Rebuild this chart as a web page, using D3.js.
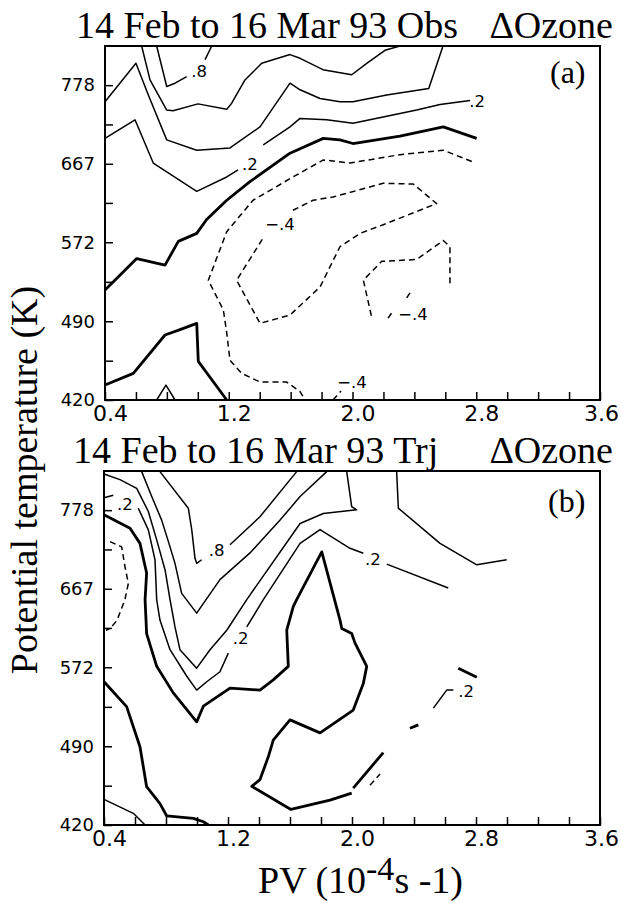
<!DOCTYPE html>
<html>
<head>
<meta charset="utf-8">
<script src="https://cdn.jsdelivr.net/npm/d3@7"></script>
<style>
  body { margin: 0; background: #fff; }
  svg { display: block; }
  .title { font-family: "Liberation Serif", "Times New Roman", serif; font-size: 38px; fill: #000; }
  .tag { font-family: "Liberation Serif", "Times New Roman", serif; font-size: 32px; fill: #000; }
  .clabel { font-family: "DejaVu Sans", sans-serif; font-size: 16.5px; fill: #000; }
</style>
</head>
<body>
<svg id="chart"></svg>
<script>
// axis ticks
const pvTicks = [0.4, 0.6, 0.8, 1.0, 1.2, 1.4, 1.6, 1.8, 2.0, 2.2, 2.4, 2.6, 2.8, 3.0, 3.2, 3.4, 3.6];
const pvLabels = [0.4, 1.2, 2.0, 2.8, 3.6];
const thetaTicks = [420, 453.6, 490, 529.3, 572, 617.8, 667, 720.4, 778];
const thetaLabels = [420, 490, 572, 667, 778];

// panel (a): observed, contour pieces as [PV, theta]
const obs08 = [
  [[0.734, 840], [0.799, 776], [0.853, 781], [0.928, 791]],
  [[1.047, 818], [1.090, 840]]
];
const obs06 = [
  [[0.637, 840], [0.691, 786], [0.799, 741], [0.840, 740], [1.001, 750], [1.187, 742], [1.219, 751], [1.305, 786],
   [1.413, 812], [1.596, 826], [1.661, 820], [1.809, 802], [1.874, 799], [1.995, 794], [2.092, 812], [2.210, 833], [2.307, 840]]
];
const obs04 = [
  [[0.4, 753], [0.600, 812], [0.680, 763], [0.799, 699], [0.993, 685], [1.208, 688], [1.402, 717], [1.596, 781],
   [1.661, 771], [1.790, 758], [1.919, 753], [2.003, 753], [2.221, 763], [2.493, 773], [2.585, 840]]
];
const obs02 = [
  [[0.4, 701], [0.594, 727], [0.712, 668], [0.993, 632], [1.187, 650], [1.26, 659]],
  [[1.423, 692], [1.596, 717], [1.661, 729], [1.833, 727], [2.003, 722], [2.221, 732], [2.415, 741], [2.566, 749], [2.760, 755]],
  [[0.734, 420], [0.794, 432.5], [0.853, 420]]
];
const obs00 = [
  [[0.4, 521], [0.605, 554], [0.788, 547], [0.874, 573], [0.993, 582], [1.057, 598], [1.187, 621], [1.337, 644],
   [1.596, 681], [1.811, 701], [1.919, 699], [2.003, 694], [2.307, 704], [2.587, 717], [2.803, 701]],
  [[0.4, 432.5], [0.583, 442.5], [0.788, 477], [0.885, 482], [0.993, 488], [1.003, 453], [1.187, 420]]
];
const obsM02 = [
  [[2.771, 670], [2.587, 685], [2.307, 679], [1.984, 668], [1.811, 672], [1.661, 655], [1.615, 650], [1.357, 621],
   [1.187, 584], [1.068, 531], [1.165, 501], [1.187, 479], [1.208, 454], [1.284, 442.5], [1.402, 435], [1.575, 435],
   [1.661, 427], [1.693, 420]]
];
const obsM04 = [
  [[1.615, 609], [1.745, 621], [1.874, 625], [2.199, 642], [2.393, 641], [2.544, 617], [2.199, 592], [2.049, 582],
   [1.919, 567], [1.790, 524], [1.596, 496], [1.402, 488], [1.251, 531], [1.423, 577]],
  [[2.630, 528], [2.630, 567], [2.587, 574], [2.415, 553], [2.189, 551], [2.070, 531], [2.124, 494]],
  [[2.230, 493], [2.253, 498]],
  [[2.350, 513], [2.372, 518]],
  [[1.874, 420], [1.926, 427.5]]
];
const obsLabels = [
  [1.008, 799, ".8"], [1.337, 666, ".2"], [2.805, 754, ".2"],
  [1.531, 592, "\u2212.4"], [2.391, 497, "\u2212.4"], [1.997, 435, "\u2212.4"]
];

// panel (b): trajectory model
const trj08 = [
  [[0.761, 839], [0.944, 781], [0.966, 749], [0.987, 708], [0.998, 701], [1.030, 706]],
  [[1.213, 727], [1.406, 768], [1.643, 839]]
];
const trj06 = [
  [[0.643, 839], [0.708, 799], [0.772, 763], [0.826, 724], [0.858, 701], [0.901, 661], [0.998, 636], [1.148, 679],
   [1.342, 715.5], [1.536, 763], [1.665, 799], [1.837, 839]]
];
const trj04 = [
  [[0.4, 835], [0.503, 826], [0.611, 812], [0.686, 776], [0.740, 734], [0.794, 692], [0.826, 653], [0.858, 619],
   [0.890, 592], [0.998, 571], [1.084, 592], [1.192, 615], [1.321, 653], [1.665, 758], [1.815, 773], [2.030, 778.5],
   [1.998, 783.5], [1.966, 839]]
];
const trj02 = [
  [[0.4, 797], [0.460, 801]],
  [[0.621, 781], [0.686, 748.6], [0.729, 706], [0.740, 652.6], [0.761, 627.4], [0.826, 592], [0.934, 562], [0.998, 547],
   [1.063, 556], [1.148, 567], [1.202, 588]],
  [[1.321, 619], [1.428, 653], [1.665, 729], [1.794, 749], [1.987, 722], [2.073, 715]],
  [[2.224, 700], [2.621, 668]],
  [[2.288, 839], [2.299, 781], [2.568, 729], [2.805, 699], [2.998, 706]],
  [[0.4, 441.6], [0.589, 429.7], [0.665, 420]],
  [[2.525, 528], [2.611, 547], [2.654, 547]]
];
const trj00 = [
  [[0.4, 771], [0.568, 751], [0.632, 729], [0.675, 688], [0.665, 652.6], [0.675, 611], [0.740, 573], [0.847, 544],
   [0.998, 514], [1.041, 530], [1.213, 549], [1.406, 547], [1.492, 558], [1.589, 573], [1.579, 615], [1.621, 644],
   [1.643, 653], [1.805, 717], [1.923, 627], [1.934, 617], [1.998, 611], [2.019, 600], [2.095, 573], [2.073, 554],
   [2.008, 526], [1.794, 503], [1.600, 516], [1.492, 496], [1.460, 480], [1.406, 459], [1.353, 453], [1.606, 433],
   [1.858, 441], [1.998, 447]],
  [[2.008, 451.5], [2.202, 484]],
  [[2.374, 507.6], [2.428, 511]],
  [[2.686, 571], [2.805, 561]],
  [[0.4, 556], [0.546, 529.5], [0.632, 489.6], [0.675, 452.7], [0.761, 438], [0.805, 427.5], [0.976, 425.5],
   [1.041, 422.7], [1.073, 420]]
];
const trjM02 = [
  [[0.439, 731.6], [0.514, 724], [0.535, 697], [0.557, 674], [0.535, 653], [0.484, 627], [0.439, 617], [0.413, 615]],
  [[2.116, 454], [2.181, 464]]
];
const trjLabels = [
  [1.127, 718.5, ".8"], [0.535, 786, ".2"], [1.282, 605.5, ".2"], [2.135, 706, ".2"], [2.736, 546, ".2"]
];

const panels = [
  {
    left: 105, right: 600, top: 46, bottom: 400,
    title: "14 Feb to 16 Mar 93 Obs", titleX: 76, titleY: 38, tag: "(a)", tagX: 550, tagY: 82.5,
    levels: [
      {level: 0.8, segs: obs08}, {level: 0.6, segs: obs06}, {level: 0.4, segs: obs04},
      {level: 0.2, segs: obs02}, {level: 0, segs: obs00}, {level: -0.2, segs: obsM02}, {level: -0.4, segs: obsM04}
    ],
    labels: obsLabels
  },
  {
    left: 104, right: 600, top: 471, bottom: 825,
    title: "14 Feb to 16 Mar 93 Trj", titleX: 73, titleY: 463, tag: "(b)", tagX: 548, tagY: 512,
    levels: [
      {level: 0.8, segs: trj08}, {level: 0.6, segs: trj06}, {level: 0.4, segs: trj04},
      {level: 0.2, segs: trj02}, {level: 0, segs: trj00}, {level: -0.2, segs: trjM02}
    ],
    labels: trjLabels
  }
];

const svg = d3.select("#chart").attr("width", 621).attr("height", 903);

function drawPanel(p) {
  const x = d3.scaleLinear().domain([0.4, 3.6]).range([p.left, p.right]);
  const y = d3.scaleLog().domain([420, 840]).range([p.bottom, p.top]);
  const g = svg.append("g");
  const line = d3.line().x(d => x(d[0])).y(d => y(d[1]));

  // contour lines: zero thick, negative dashed
  p.levels.forEach(lv => {
    g.append("g").selectAll("path")
      .data(lv.segs)
      .join("path")
      .attr("d", line)
      .attr("fill", "none")
      .attr("stroke", "#000")
      .attr("stroke-width", lv.level === 0 ? 2.8 : 1.5)
      .attr("stroke-dasharray", lv.level < 0 ? "6,4" : null)
      .attr("stroke-linejoin", "round");
  });

  g.selectAll(".clabel")
    .data(p.labels)
    .join("text")
    .attr("class", "clabel")
    .attr("x", d => x(d[0]))
    .attr("y", d => y(d[1]))
    .attr("text-anchor", "middle")
    .attr("dominant-baseline", "central")
    .text(d => d[2]);

  // frame
  g.append("rect")
    .attr("x", p.left).attr("y", p.top)
    .attr("width", p.right - p.left).attr("height", p.bottom - p.top)
    .attr("fill", "none").attr("stroke", "#000").attr("stroke-width", 2);

  const xAxis = g.append("g")
    .attr("transform", `translate(0,${p.bottom})`)
    .call(d3.axisBottom(x).tickValues(pvTicks).tickSizeInner(-8).tickSizeOuter(0).tickPadding(5)
      .tickFormat(d => pvLabels.includes(d) ? d3.format(".1f")(d) : ""));
  xAxis.select(".domain").remove();
  xAxis.attr("font-size", 22).attr("font-family", "DejaVu Sans");
  xAxis.selectAll("line").attr("stroke-width", 1.5);
  xAxis.selectAll("text").attr("dx", d => d === 3.6 ? 1 : 5);

  const yAxis = g.append("g")
    .attr("transform", `translate(${p.left},0)`)
    .call(d3.axisLeft(y).tickValues(thetaTicks).tickSizeInner(-8).tickSizeOuter(0).tickPadding(10)
      .tickFormat(d => thetaLabels.includes(d) ? d : ""));
  yAxis.select(".domain").remove();
  yAxis.attr("font-size", 18).attr("font-family", "DejaVu Sans");
  yAxis.selectAll("line").attr("stroke-width", 1.5);

  // titles
  svg.append("text").attr("class", "title").attr("x", p.titleX).attr("y", p.titleY).text(p.title);
  svg.append("text").attr("class", "title").attr("x", 613).attr("y", p.titleY)
    .attr("text-anchor", "end").text("\u0394Ozone");
  svg.append("text").attr("class", "tag").attr("x", p.tagX).attr("y", p.tagY).text(p.tag);
}

panels.forEach(drawPanel);

// axis titles
svg.append("text")
  .attr("class", "title")
  .attr("transform", "translate(37,480) rotate(-90)")
  .attr("text-anchor", "middle")
  .text("Potential temperature (K)");

const xt = svg.append("text").attr("class", "title").attr("x", 258).attr("y", 893);
xt.append("tspan").text("PV (10");
xt.append("tspan").attr("dy", -13).attr("font-size", 34).text("-4");
xt.append("tspan").attr("dy", 13).text("s -1)");
</script>
</body>
</html>
